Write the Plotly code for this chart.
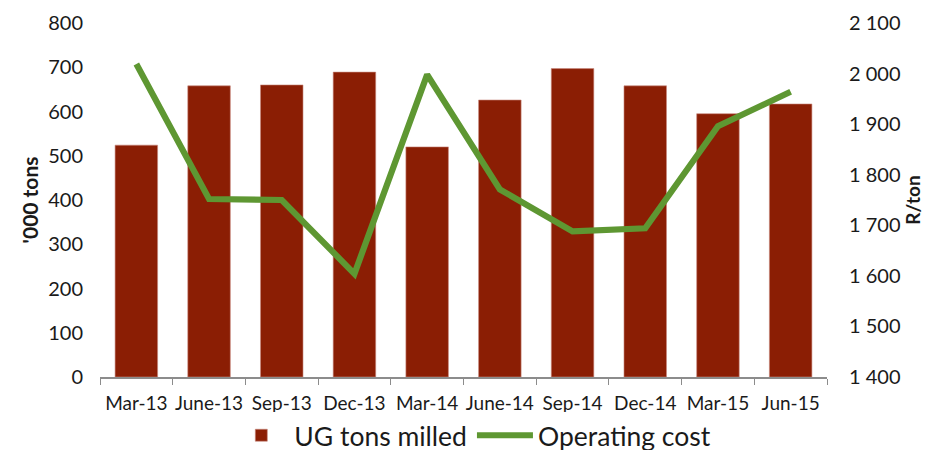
import plotly.graph_objects as go

categories = ["Mar-13", "June-13", "Sep-13", "Dec-13", "Mar-14", "June-14", "Sep-14", "Dec-14", "Mar-15", "Jun-15"]
ug_tons_milled = [524, 658, 660, 689, 520, 626, 697, 658, 595, 617]
operating_cost = [2019, 1752, 1750, 1604, 1998, 1771, 1688, 1694, 1896, 1964]

font_family = "Lato, 'DejaVu Sans', sans-serif"

fig = go.Figure()
fig.add_trace(go.Bar(
    x=categories, y=ug_tons_milled, name="UG tons milled",
    marker=dict(color="#8B1E04", line=dict(color="#C98A80", width=0.6)),
    yaxis="y",
))
fig.add_trace(go.Scatter(
    x=categories, y=operating_cost, name="Operating cost",
    mode="lines", line=dict(color="#5E9732", width=6.2),
    yaxis="y2",
))

fig.update_layout(
    width=938, height=450,
    margin=dict(l=92, r=119, t=15, b=81, autoexpand=False),
    paper_bgcolor="white", plot_bgcolor="white",
    separators=". ",
    font=dict(family=font_family, size=18, color="#1a1a1a"),
    bargap=0.415,
    showlegend=True,
    legend=dict(orientation="h", xref="container", x=0.495, xanchor="center",
                yref="container", y=0.05, yanchor="middle",
                font=dict(size=26.5), itemwidth=56, traceorder="normal"),
    xaxis=dict(
        type="category", showline=True, linecolor="#8c8c8c", linewidth=1.5,
        ticks="outside", tickson="boundaries", ticklen=6, tickcolor="#8c8c8c",
        tickfont=dict(size=19), showgrid=False, ticklabelstandoff=8, tickangle=0,
    ),
    yaxis=dict(
        range=[0, 800], dtick=100, showgrid=False, zeroline=False, showline=False,
        title=dict(text="<b>'000 tons</b>", font=dict(size=21), standoff=3),
        tickfont=dict(size=20), ticklabelstandoff=16,
    ),
    yaxis2=dict(
        range=[1400, 2100], dtick=100, overlaying="y", side="right",
        showgrid=False, zeroline=False, showline=False, tickformat=",d",
        title=dict(text="<b>R/ton</b>", font=dict(size=19), standoff=4),
        tickfont=dict(size=20), ticklabelstandoff=21,
    ),
)

fig.write_html("out.html")
